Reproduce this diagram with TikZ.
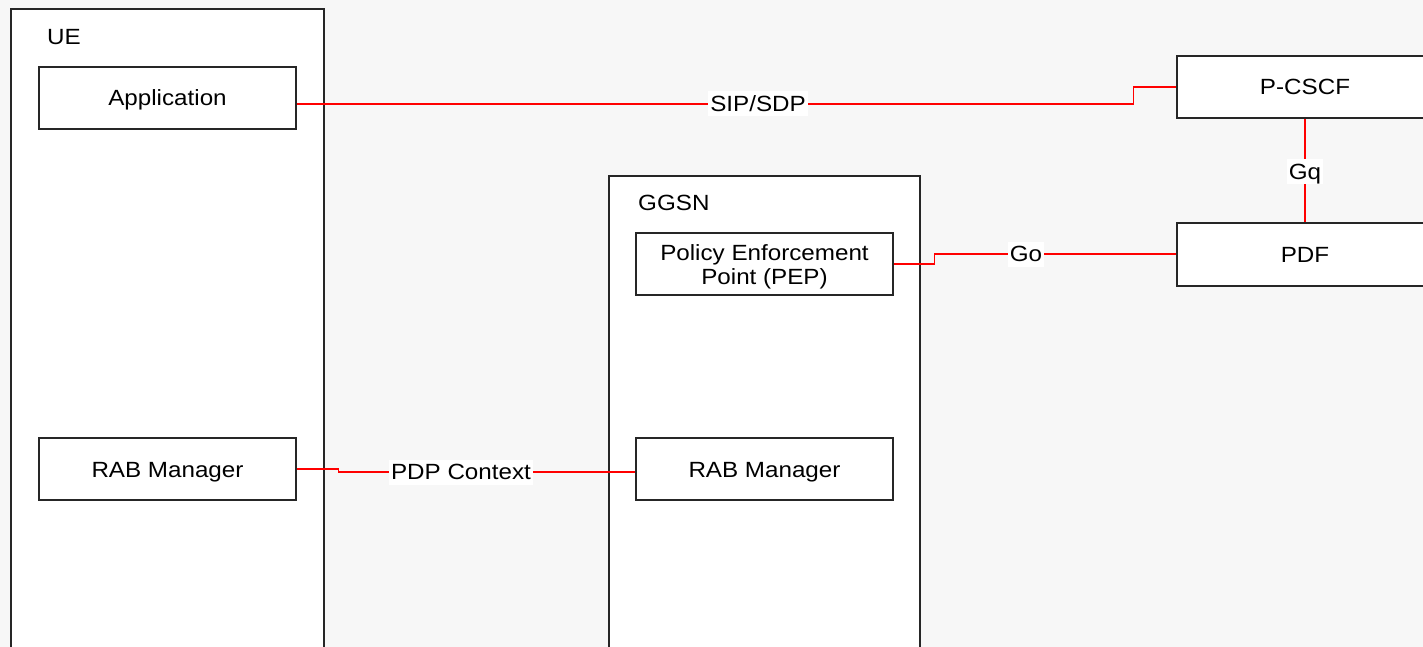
\documentclass[tikz,border=0pt]{standalone}
\usepackage{fontspec}
\setmainfont{Liberation Sans}[FakeStretch=1.1]
\begin{document}
\begin{tikzpicture}[x=1pt,y=-1pt,
  every node/.style={font=\fontsize{22}{24}\selectfont, text=black},
  box/.style={draw=black!85, line width=1.6pt, fill=white, inner sep=0pt, align=center},
  inner/.style={box, minimum width=257pt, minimum height=62pt, text height=16pt, text depth=0pt},
  frame/.style={box},
  title/.style={anchor=west, inner sep=0pt, text height=16pt, text depth=0pt},
  link/.style={draw=red, line width=1.3pt},
  lbl/.style={fill=white, inner xsep=2pt, inner ysep=4pt, text height=16pt, text depth=1pt}]
  % page and background
  \useasboundingbox[fill=black!3] (0,0) rectangle (1423,647);
  \clip (0,0) rectangle (1423,647);

  % enclosing network elements
  \node[frame, minimum width=313pt, minimum height=691pt] (ue) at (167.5,354.5) {};
  \node[title] (uet) at (47,37) {UE};
  \node[frame, minimum width=311pt, minimum height=524pt] (ggsn) at (764.5,438) {};
  \node[title] (ggsnt) at (638,203) {GGSN};

  % functional blocks
  \node[inner] (app)  at (167.5,98)  {Application};
  \node[inner] (rab1) at (167.5,469) {RAB Manager};
  \node[inner, text height=40pt] (pep) at (764.5,264) {Policy Enforcement\\Point (PEP)};
  \node[inner] (rab2) at (764.5,469) {RAB Manager};
  \node[inner, minimum width=256pt] (pcscf) at (1305,87) {P-CSCF};
  \node[inner, minimum width=256pt, minimum height=63pt] (pdf) at (1305,254.5) {PDF};

  % interfaces
  \draw[link] ([yshift=-6pt]app.east) -| ([xshift=-43pt]pcscf.west) -- (pcscf.west);
  \draw[link] (pep.east) -| ([xshift=-242pt,yshift=0.5pt]pdf.west) -- ([yshift=0.5pt]pdf.west);
  \draw[link] (rab1.east) -- ++(42,0) |- ([yshift=-3pt]rab2.west);
  \draw[link] (pcscf.south) -- (pdf.north);

  % interface labels
  \node[lbl] (sip) at (758,104) {SIP/SDP};
  \node[lbl] (go)  at (1026,254) {Go};
  \node[lbl] (pdp) at (461,472) {PDP Context};
  \node[lbl] (gq)  at (1305,172) {Gq};
\end{tikzpicture}
\end{document}
